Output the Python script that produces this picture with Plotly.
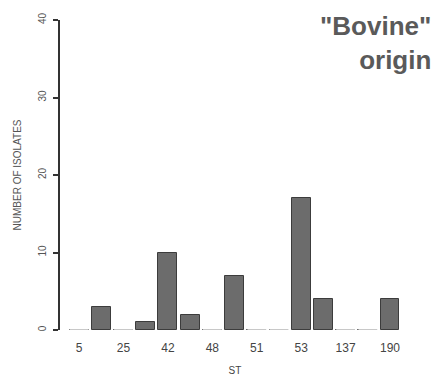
import plotly.graph_objects as go

# Isolate counts per sequence type (ST); every other slot carries a label
st_labels = ["5", "", "25", "", "42", "", "48", "", "51", "", "53", "", "137", "", "190"]
isolates = [0, 3, 0, 1, 10, 2, 0, 7, 0, 0, 17, 4, 0, 0, 4]
y_ticks = [0, 10, 20, 30, 40]

positions = list(range(len(isolates)))
bar_width = 0.85

fig = go.Figure()

fig.add_trace(go.Bar(
    x=positions,
    y=isolates,
    width=bar_width,
    marker=dict(color="#6c6c6c", line=dict(color="#3c3c3c", width=1)),
    showlegend=False,
    hoverinfo="x+y",
))

# Empty categories drawn as a flat light-grey base line
zx, zy = [], []
for p, v in zip(positions, isolates):
    if v == 0:
        zx += [p - bar_width / 2, p + bar_width / 2, None]
        zy += [0, 0, None]
fig.add_trace(go.Scatter(
    x=zx, y=zy, mode="lines",
    line=dict(color="#c8c8c8", width=2),
    showlegend=False, hoverinfo="skip", cliponaxis=False,
))

tick_pos = [p for p, s in zip(positions, st_labels) if s]
tick_txt = [s for s in st_labels if s]

fig.update_layout(
    width=437, height=381,
    margin=dict(l=60, r=27, t=20, b=51),
    paper_bgcolor="white", plot_bgcolor="white",
    font=dict(family="Liberation Sans, Arial, sans-serif", color="#444"),
    bargap=0,
    xaxis=dict(
        range=[-0.86, 14.9], automargin=False,
        tickmode="array", tickvals=tick_pos, ticktext=tick_txt,
        showline=False, showgrid=False, zeroline=False,
        ticks="", ticklabelstandoff=9,
        tickfont=dict(size=12, color="#444"),
        title=dict(text="ST", font=dict(size=10, color="#444"), standoff=12),
        fixedrange=True,
    ),
    yaxis=dict(
        range=[0, 40], automargin=False,
        tickmode="array", tickvals=y_ticks,
        showline=True, linecolor="#333", linewidth=2,
        showgrid=False, zeroline=False,
        ticks="outside", ticklen=5, tickwidth=2, tickcolor="#333",
        tickangle=-90, tickfont=dict(size=10, color="#555"),
        ticklabelstandoff=3,
        title=dict(text="NUMBER OF ISOLATES", font=dict(size=10, color="#555"), standoff=14),
        fixedrange=True,
    ),
    annotations=[dict(
        text="<b>\"Bovine\"<br>origin</b>",
        xref="paper", yref="paper", x=1.066, y=1.035,
        xanchor="right", yanchor="top", align="right",
        showarrow=False,
        font=dict(size=26, color="#5a5a5a", family="Liberation Sans, Arial, sans-serif"),
    )],
)

fig.write_html("out.html")
